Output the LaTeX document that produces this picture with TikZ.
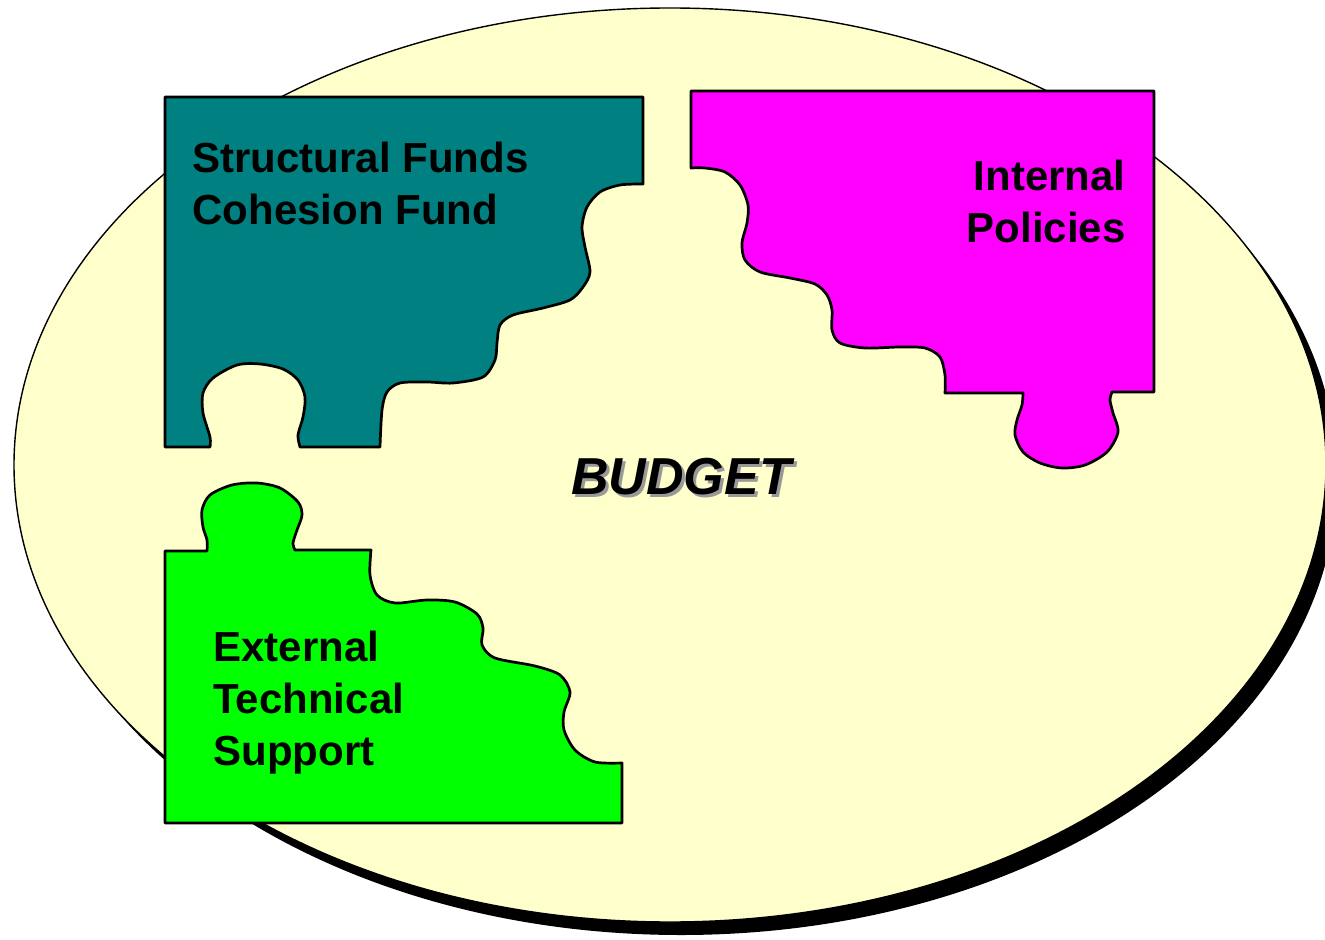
\documentclass[tikz,border=0pt]{standalone}
\usepackage{fontspec}
\setmainfont{Liberation Sans}
\definecolor{budgetbg}{HTML}{FFFFCC}
\definecolor{piecesf}{HTML}{008080}
\definecolor{pieceip}{HTML}{FF00FF}
\definecolor{pieceets}{HTML}{00FF00}
\begin{document}
\begin{tikzpicture}[x=0.5pt,y=-0.5pt,
    piece/.style={draw=black,line width=1.35pt,line join=round},
    label/.style={inner sep=0pt,font=\bfseries\fontsize{21}{26}\selectfont}]
  \useasboundingbox (0,0) rectangle (1325,940);
  \fill[black] (681,478) ellipse [x radius=656, y radius=457];
  \draw[fill=budgetbg,line width=0.7pt] (670,465) ellipse [x radius=656, y radius=457];
  \draw[piece,fill=piecesf] (165,97) -- (643,97)
    -- plot[smooth] coordinates {(643,184) (620,185) (600,192) (587,207) (582,227) (585,247) (590,272) (583,287) (570,300) (543,308) (513,315) (500,325) (497,343) (495,360) (483,377) (453,383) (427,382) (400,383) (387,392) (382,410) (380,447)}
    -- plot[smooth] coordinates {(300,447) (298,435) (303,417) (305,397) (298,380) (283,369) (260,364) (237,365) (213,378) (203,393) (203,413) (210,437) (210,447)}
    -- (165,447) -- cycle;
  \draw[piece,fill=pieceip] (691,91) -- (1154,91) -- (1154,392) -- (1112,392)
    -- plot[smooth] coordinates {(1112,392) (1110,400) (1113,413) (1118,432) (1107,452) (1085,465) (1062,468) (1040,463) (1023,452) (1015,435) (1017,420) (1022,405) (1023,393)}
    -- plot[smooth] coordinates {(945,393) (945,375) (940,357) (925,348) (900,347) (865,348) (840,343) (832,330) (832,310) (827,295) (815,284) (790,278) (760,272) (745,260) (742,243) (747,223) (748,205) (740,185) (725,172) (705,168) (691,168)}
    -- cycle;
  \draw[piece,fill=pieceets] (165,551)
    -- plot[smooth] coordinates {(207,551) (207,540) (203,527) (202,510) (210,495) (232,485) (257,483) (280,488) (298,502) (302,515) (297,530) (293,543) (295,550)}
    -- plot[smooth] coordinates {(371,550) (370,575) (377,595) (395,603) (427,600) (455,602) (477,614) (483,628) (482,645) (495,658) (535,666) (560,675) (570,692) (564,712) (564,730) (575,750) (595,762) (622,763)}
    -- (622,823) -- (165,823) -- cycle;
  \node[label,anchor=base west,align=left] (structural) at (192,225) {Structural Funds\\Cohesion Fund};
  \node[label,anchor=base east,align=right] (internal) at (1126,243) {Internal\\Policies};
  \node[label,anchor=base west,align=left] (external) at (213,765) {External\\Technical\\Support};
  \node[inner sep=0pt,anchor=base,text=black!40,font=\bfseries\itshape\fontsize{26}{30}\selectfont] (budget shadow) at (684,497) {BUDGET};
  \node[inner sep=0pt,anchor=base,font=\bfseries\itshape\fontsize{26}{30}\selectfont] (budget) at (681,494) {BUDGET};
\end{tikzpicture}
\end{document}
